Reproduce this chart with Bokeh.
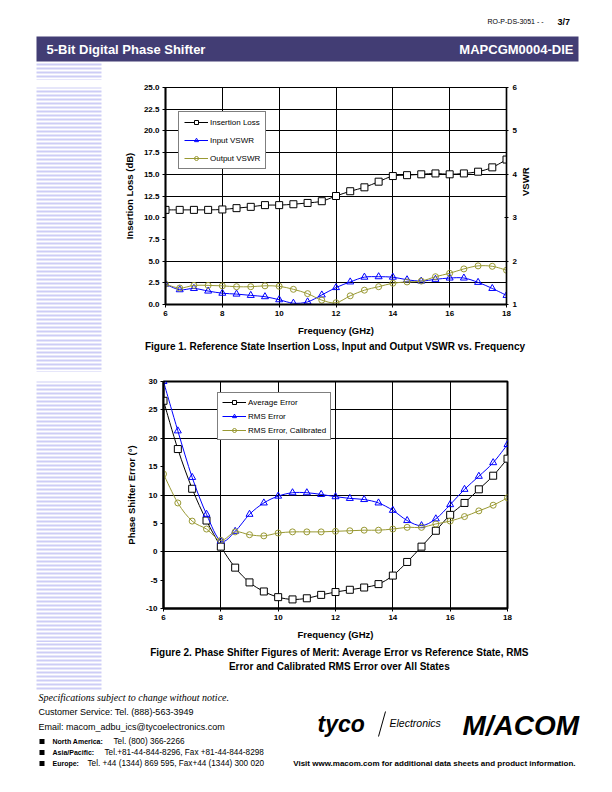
import numpy as np
from bokeh.plotting import figure
from bokeh.models import (Range1d, LinearAxis, FixedTicker, Legend, LegendItem,
                          PrintfTickFormatter, ColumnDataSource)
from bokeh.layouts import column, row
from bokeh.embed import file_html
from bokeh.resources import INLINE
from bokeh.core.properties import value

FONT = "Liberation Sans"
SERIF = "Liberation Serif"

# ---------------- data ----------------
freq_ghz = [6.0, 6.5, 7.0, 7.5, 8.0, 8.5, 9.0, 9.5, 10.0, 10.5, 11.0, 11.5, 12.0,
            12.5, 13.0, 13.5, 14.0, 14.5, 15.0, 15.5, 16.0, 16.5, 17.0, 17.5, 18.0]

insertion_loss_db = [10.9, 10.9, 10.9, 10.9, 10.95, 11.1, 11.25, 11.45, 11.45, 11.55,
                     11.7, 11.9, 12.5, 13.05, 13.5, 14.15, 14.8, 14.9, 15.0, 15.1,
                     15.0, 15.1, 15.3, 15.8, 16.7]
input_vswr = [1.47, 1.34, 1.37, 1.31, 1.26, 1.24, 1.21, 1.18, 1.11, 1.03, 1.06, 1.22,
              1.39, 1.52, 1.63, 1.64, 1.63, 1.57, 1.54, 1.58, 1.61, 1.61, 1.51, 1.37, 1.21]
output_vswr = [1.47, 1.38, 1.44, 1.44, 1.43, 1.41, 1.41, 1.43, 1.42, 1.35, 1.25, 1.10,
               1.04, 1.20, 1.33, 1.41, 1.49, 1.52, 1.54, 1.64, 1.72, 1.82, 1.89, 1.88, 1.79]

average_error = [26.6, 18.1, 11.1, 5.5, 0.9, -2.8, -5.4, -7.0, -8.0, -8.4, -8.2, -7.6,
                 -7.1, -6.7, -6.3, -5.7, -4.2, -1.8, 0.9, 3.7, 6.5, 8.6, 11.0, 13.4, 16.4]
rms_error = [30.0, 21.3, 13.1, 6.6, 1.9, 3.6, 6.6, 8.6, 9.8, 10.4, 10.4, 10.1, 9.7, 9.4,
             9.2, 8.6, 7.3, 5.5, 4.6, 5.8, 8.3, 11.0, 13.3, 15.7, 18.9]
rms_error_cal = [13.7, 8.6, 5.4, 4.0, 2.0, 3.5, 3.0, 2.8, 3.3, 3.5, 3.5, 3.5, 3.6, 3.7,
                 3.8, 3.8, 4.0, 4.3, 4.3, 4.9, 5.4, 6.2, 7.2, 8.2, 9.5]

freq_ticks = [6, 8, 10, 12, 14, 16, 18]
freq_grid = [8, 10, 12, 14, 16]
il_ticks = [0, 2.5, 5, 7.5, 10, 12.5, 15, 17.5, 20, 22.5, 25]
il_grid = [2.5, 5, 12.5, 15, 17.5, 20, 22.5]
vswr_ticks = [1, 2, 3, 4, 5, 6]
err_ticks = [-10, -5, 0, 5, 10, 15, 20, 25, 30]
err_grid = [0, 10, 20, 25]

BLACK = "#000000"
BLUE = "#0000FF"
OLIVE = "#999933"
HEADER = "#423D74"
STRIPE = "#CDCDF6"


def smooth_parts(xs, ys):
    x = np.asarray(xs, float)
    y = np.asarray(ys, float)
    x0, y0, x1, y1 = x[:-1], y[:-1], x[1:], y[1:]
    xp = np.concatenate([[x[0]], x[:-2]])
    yp = np.concatenate([[y[0]], y[:-2]])
    xn = np.concatenate([x[2:], [x[-1]]])
    yn = np.concatenate([y[2:], [y[-1]]])
    return ColumnDataSource(dict(
        x0=x0, y0=y0, x1=x1, y1=y1,
        cx0=x0 + (x1 - xp) / 6, cy0=y0 + (y1 - yp) / 6,
        cx1=x1 - (xn - x0) / 6, cy1=y1 - (yn - y0) / 6))


def series(p, xs, ys, color, marker, size, fill, range_name="default"):
    kw = {} if range_name == "default" else {"y_range_name": range_name}
    p.bezier(x0="x0", y0="y0", x1="x1", y1="y1", cx0="cx0", cy0="cy0",
             cx1="cx1", cy1="cy1", source=smooth_parts(xs, ys),
             line_color=color, line_width=1, **kw)
    # single-point line: invisible on the plot, used for the legend sample
    legend_line = p.line(x=xs[:1], y=ys[:1], line_color=color, line_width=1, **kw)
    m = p.scatter(x=xs, y=ys, marker=marker, size=size, line_color=color,
                  line_width=1, fill_color=fill if fill else "white",
                  fill_alpha=1.0 if fill == "white" else 0.0, **kw)
    return [legend_line, m]


def style_axis(ax, label=None, label_standoff=6, tick_out=3, tick_in=0, width=2):
    ax.major_label_text_font = FONT
    ax.major_label_text_font_style = "bold"
    ax.major_label_text_font_size = "8px"
    ax.major_label_text_color = BLACK
    ax.major_label_standoff = 3
    ax.axis_line_color = BLACK
    ax.axis_line_width = width
    ax.major_tick_out = tick_out
    ax.major_tick_in = tick_in
    ax.major_tick_line_color = BLACK
    ax.minor_tick_out = 0
    ax.minor_tick_in = 0
    if label:
        ax.axis_label = label
        ax.axis_label_text_font = FONT
        ax.axis_label_text_font_style = "bold"
        ax.axis_label_text_font_size = "9.5px"
        ax.axis_label_text_color = BLACK
        ax.axis_label_standoff = label_standoff


# Decoration panels use page pixel coordinates; y is stored negated so the
# ranges stay in normal (non-inverted) order.
def deco(x0, x1, y0, y1):
    f = figure(frame_width=x1 - x0, frame_height=y1 - y0, x_range=Range1d(x0, x1),
               y_range=Range1d(-y1, -y0), output_backend="svg", toolbar_location=None,
               title=None, x_axis_location=None, y_axis_location=None,
               min_border_left=0, min_border_right=0, min_border_top=0,
               min_border_bottom=0, outline_line_color=None,
               background_fill_color="white", border_fill_color="white")
    f.grid.visible = False
    sy = np.arange(63, 690, 4)
    f.quad(left=36, right=101, bottom=-(sy + 2), top=-sy,
           fill_color=STRIPE, line_color=None)
    return f


def txt(f, x, y, s, size, bold=False, italic=False, color=BLACK, align="left",
        font=FONT):
    style = "bold italic" if (bold and italic) else ("bold" if bold else ("italic" if italic else "normal"))
    f.text(x=[x], y=[-y], text=[s], text_font=value(font), text_font_size=size,
           text_font_style=style, text_color=color, text_align=align,
           text_baseline="middle")


W = 610

# ---------------- header ----------------
head = deco(0, W, 0, 80)
head.quad(left=36, right=578, bottom=-61, top=-36, fill_color=HEADER, line_color=None)
txt(head, 543, 21, "RO-P-DS-3051 - -", "7px", align="right")
txt(head, 557, 21, "3/7", "9px", bold=True)
txt(head, 46, 48.5, "5-Bit Digital Phase Shifter", "13px", bold=True, color="white")
txt(head, 573, 48.5, "MAPCGM0004-DIE", "13px", bold=True, color="white", align="right")

# ---------------- chart 1 ----------------
s1 = deco(0, 104, 80, 338)
p1 = figure(width=W - 104, height=258, x_range=Range1d(6, 18), y_range=Range1d(0, 25),
            output_backend="svg", toolbar_location=None, title=None,
            min_border_left=61, min_border_right=W - 506, min_border_top=7,
            min_border_bottom=34, background_fill_color="white",
            border_fill_color="white", outline_line_color=BLACK,
            outline_line_width=1.2)
p1.extra_y_ranges = {"vswr": Range1d(1, 6)}
p1.xaxis.ticker = FixedTicker(ticks=freq_ticks)
p1.yaxis.ticker = FixedTicker(ticks=il_ticks)
p1.yaxis.formatter = PrintfTickFormatter(format="%.1f")
style_axis(p1.xaxis[0], "Frequency (GHz)", 6)
style_axis(p1.yaxis[0], "Insertion Loss (dB)", 6)
rax = LinearAxis(y_range_name="vswr", ticker=FixedTicker(ticks=vswr_ticks))
style_axis(rax, "VSWR", 6, tick_out=2, tick_in=2, width=1.5)
rax.major_label_standoff = 4
if "axis_label_orientation" in rax.properties():
    rax.axis_label_orientation = float(np.pi / 2)
p1.add_layout(rax, "right")
p1.xgrid.ticker = FixedTicker(ticks=freq_grid)
p1.ygrid.ticker = FixedTicker(ticks=il_grid)
for g in (p1.xgrid[0], p1.ygrid[0]):
    g.grid_line_color = BLACK
    g.grid_line_width = 1

r_il = series(p1, freq_ghz, insertion_loss_db, BLACK, "square", 7, "white")
r_in = series(p1, freq_ghz, input_vswr, BLUE, "triangle", 7, None, "vswr")
r_out = series(p1, freq_ghz, output_vswr, OLIVE, "circle", 6, None, "vswr")

leg1 = Legend(items=[LegendItem(label="Insertion Loss", renderers=r_il),
                     LegendItem(label="Input VSWR", renderers=r_in),
                     LegendItem(label="Output VSWR", renderers=r_out)],
              location=(13, 135), orientation="vertical",
              label_text_font=FONT, label_text_font_size="8px",
              label_text_color=BLACK,
              label_height=10, glyph_height=10, glyph_width=24, spacing=8,
              padding=5, margin=0, label_standoff=2,
              border_line_color=BLACK, border_line_width=1,
              background_fill_color="white", background_fill_alpha=1)
p1.add_layout(leg1, "center")

# ---------------- caption 1 ----------------
cap1 = deco(0, W, 338, 372)
txt(cap1, 334.5, 346,
    "Figure 1. Reference State Insertion Loss, Input and Output VSWR vs. Frequency",
    "10px", bold=True, align="center")

# ---------------- chart 2 ----------------
s2 = deco(0, 104, 372, 642)
p2 = figure(width=W - 104, height=270, x_range=Range1d(6, 18), y_range=Range1d(-10, 30),
            output_backend="svg", toolbar_location=None, title=None,
            min_border_left=59, min_border_right=W - 507, min_border_top=9,
            min_border_bottom=33, background_fill_color="white",
            border_fill_color="white", outline_line_color=BLACK,
            outline_line_width=2)
p2.xaxis.ticker = FixedTicker(ticks=freq_ticks)
p2.yaxis.ticker = FixedTicker(ticks=err_ticks)
p2.yaxis.formatter = PrintfTickFormatter(format="%d")
style_axis(p2.xaxis[0], "Frequency (GHz)", 6)
style_axis(p2.yaxis[0], "Phase Shifter Error (°)", 6)
p2.xgrid.ticker = FixedTicker(ticks=freq_grid)
p2.ygrid.ticker = FixedTicker(ticks=err_grid)
for g in (p2.xgrid[0], p2.ygrid[0]):
    g.grid_line_color = BLACK
    g.grid_line_width = 1

r_avg = series(p2, freq_ghz, average_error, BLACK, "square", 7, "white")
r_rms = series(p2, freq_ghz, rms_error, BLUE, "triangle", 7, None)
r_cal = series(p2, freq_ghz, rms_error_cal, OLIVE, "circle", 6, None)

leg2 = Legend(items=[LegendItem(label="Average Error", renderers=r_avg),
                     LegendItem(label="RMS Error", renderers=r_rms),
                     LegendItem(label="RMS Error, Calibrated", renderers=r_cal)],
              location=(54, 168), orientation="vertical",
              label_text_font=FONT, label_text_font_size="8px",
              label_text_color=BLACK,
              label_height=10, glyph_height=10, glyph_width=24, spacing=4,
              padding=4, margin=0, label_standoff=2,
              border_line_color=BLACK, border_line_width=1,
              background_fill_color="white", background_fill_alpha=1)
p2.add_layout(leg2, "center")

# ---------------- footer ----------------
foot = deco(0, W, 642, 790)
txt(foot, 339, 652,
    "Figure 2. Phase Shifter Figures of Merit: Average Error vs Reference State, RMS",
    "10px", bold=True, align="center")
txt(foot, 339, 666, "Error and Calibrated RMS Error over All States", "10px",
    bold=True, align="center")
txt(foot, 38, 697, "Specifications subject to change without notice.", "10px",
    italic=True, font=SERIF)
txt(foot, 38, 711, "Customer Service: Tel. (888)-563-3949", "9px")
txt(foot, 38, 726, "Email: macom_adbu_ics@tycoelectronics.com", "9px")
foot.rect(x=[41.5, 41.5, 41.5], y=[-741, -752, -763], width=5, height=5,
          fill_color=BLACK, line_color=None)
txt(foot, 52, 741, "North America:", "7px", bold=True)
txt(foot, 113, 741, "Tel. (800) 366-2266", "8.2px")
txt(foot, 52, 752, "Asia/Pacific:", "7px", bold=True)
txt(foot, 104, 752, "Tel.+81-44-844-8296,  Fax +81-44-844-8298", "8.2px")
txt(foot, 52, 763, "Europe:", "7px", bold=True)
txt(foot, 87, 763, "Tel. +44 (1344) 869 595,  Fax+44 (1344) 300 020", "8.2px")
txt(foot, 575, 763,
    "Visit www.macom.com for additional data sheets and product information.",
    "8px", bold=True, align="right")
txt(foot, 317, 723, "tyco", "23px", bold=True, italic=True)
foot.segment(x0=[385], y0=[-711], x1=[378], y1=[-736], line_color=BLACK, line_width=1)
txt(foot, 389, 722, "Electronics", "10.5px", italic=True)
txt(foot, 462, 725, "M/ACOM", "28px", bold=True, italic=True)

page = column(head, row(s1, p1), cap1, row(s2, p2), foot)

open("out.html", "w").write(file_html(page, INLINE))
